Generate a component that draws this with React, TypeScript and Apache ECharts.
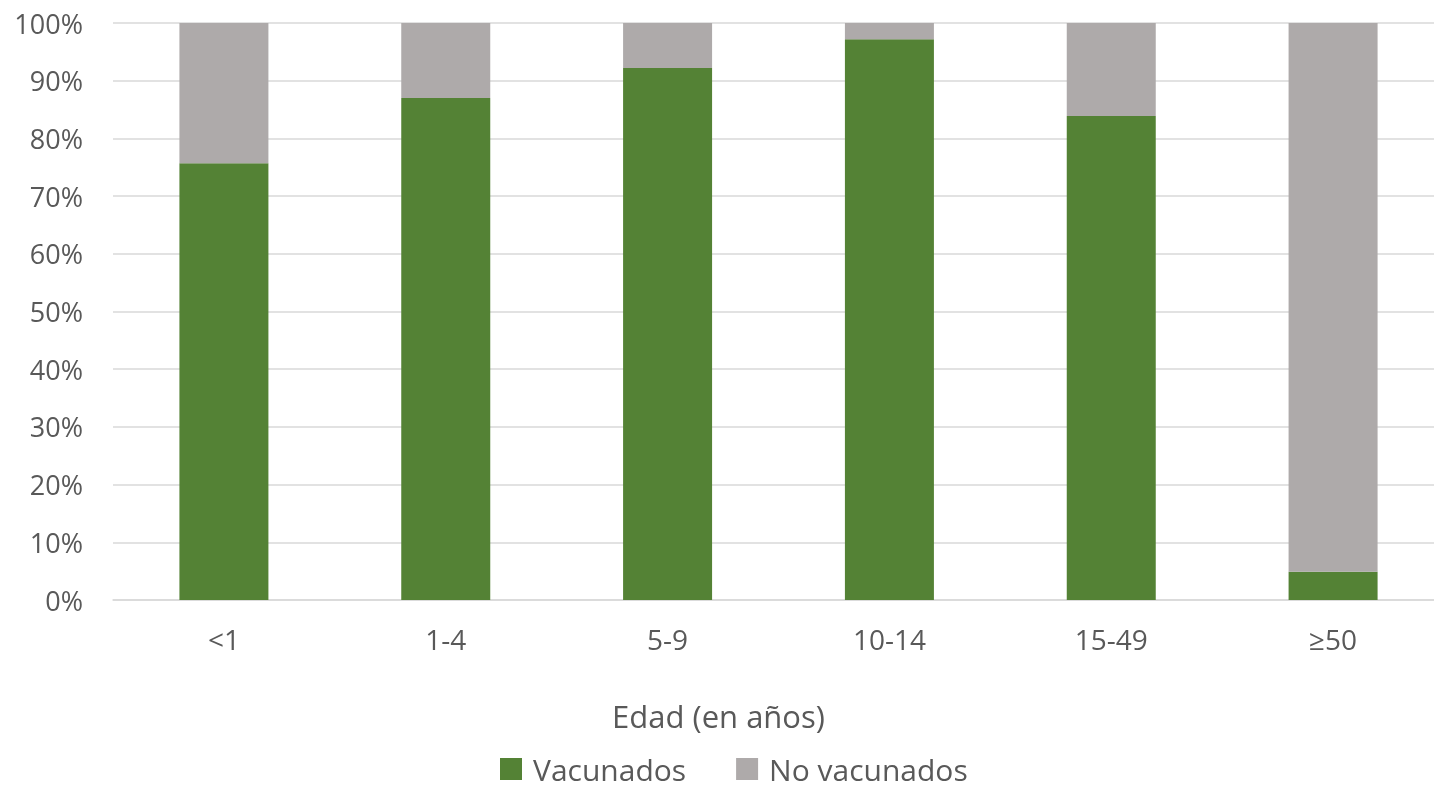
import React, { useEffect, useRef } from "react";
import * as echarts from "echarts";

const categories = ["<1", "1-4", "5-9", "10-14", "15-49", "≥50"];
const vacunados = [75.7, 87.0, 92.2, 97.2, 83.9, 4.9];
const noVacunados = [24.3, 13.0, 7.8, 2.8, 16.1, 95.1];

const FONT = "Open Sans";
const TEXT = "#595959";

export default function App() {
  const ref = useRef<HTMLDivElement>(null);
  useEffect(() => {
    if (!ref.current) return;
    const chart = echarts.init(ref.current, null, { renderer: "svg" });
    chart.setOption({
      animation: false,
      textStyle: { fontFamily: FONT, color: TEXT },
      grid: { left: 113, right: 0, top: 23, bottom: 190, containLabel: false },
      legend: {
        top: 749,
        left: 495,
        itemWidth: 22,
        itemHeight: 22,
        itemGap: 50,
        icon: "rect",
        textStyle: {
          fontFamily: FONT,
          fontSize: 30,
          lineHeight: 30,
          color: TEXT,
          padding: [0, 0, 0, 6],
        },
        data: ["Vacunados", "No vacunados"],
      },
      xAxis: {
        type: "category",
        data: categories,
        name: "Edad (en años)",
        nameLocation: "middle",
        nameGap: 100,
        nameTextStyle: { fontFamily: FONT, fontSize: 31, color: TEXT, padding: [0, 120, 0, 0] },
        axisLine: { lineStyle: { color: "#d9d9d9", width: 1.5 } },
        axisTick: { show: false },
        axisLabel: { fontFamily: FONT, fontSize: 28, color: TEXT, margin: 25 },
      },
      yAxis: {
        type: "value",
        min: 0,
        max: 100,
        interval: 10,
        axisLine: { show: false },
        axisTick: { show: false },
        splitLine: { lineStyle: { color: "#d9d9d9", width: 1.5 } },
        axisLabel: {
          fontFamily: FONT,
          fontSize: 27,
          color: TEXT,
          margin: 30,
          formatter: "{value}%",
        },
      },
      series: [
        {
          name: "Vacunados",
          type: "bar",
          stack: "total",
          barWidth: 89,
          data: vacunados,
          itemStyle: { color: "#548235" },
        },
        {
          name: "No vacunados",
          type: "bar",
          stack: "total",
          barWidth: 89,
          data: noVacunados,
          itemStyle: { color: "#AEAAAA" },
        },
      ],
    });
    return () => chart.dispose();
  }, []);
  return (
    <div style={{ position: "fixed", left: 0, top: 0, width: 1434, height: 790, overflow: "hidden" }}>
      <div ref={ref} style={{ width: 1444, height: 790 }} />
    </div>
  );
}
